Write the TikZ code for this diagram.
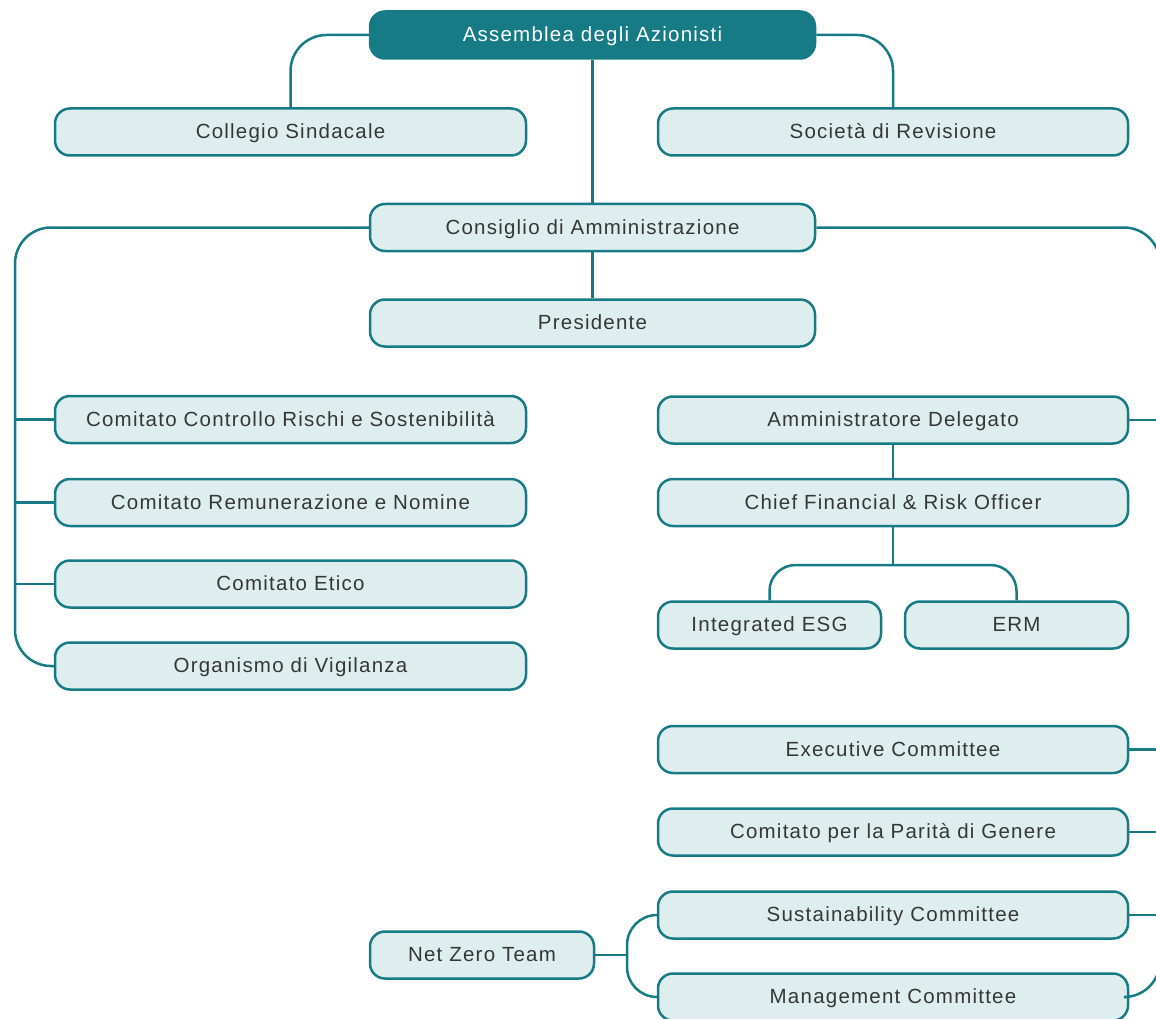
\documentclass[tikz,border=0pt]{standalone}
\usepackage{fontspec}
\setmainfont{Liberation Sans}
\newfontfamily\boxfont[LetterSpace=6]{Liberation Sans}
\usepackage{tikz}
\definecolor{teal1}{HTML}{177B85}
\definecolor{tealbg}{HTML}{DEEEEE}
\definecolor{ink}{HTML}{363636}

\begin{document}
\begin{tikzpicture}[
    x=1pt, y=-1pt,
    box/.style={rectangle, rounded corners=15pt, draw=teal1, line width=2.5pt,
                fill=tealbg, text=ink, minimum width=#1, minimum height=47pt,
                inner sep=0pt, text height=14.5pt, text depth=1.5pt,
                font=\boxfont\fontsize{20.5}{24}\selectfont},
    box/.default=471pt,
    headbox/.style={box=445pt, fill=teal1, text=white},
    link/.style={draw=teal1, line width=2.5pt, rounded corners=36pt}
]
\useasboundingbox (0,0) rectangle (1156,1019);

% Top level
\node[headbox] (assem) at (592.5,35) {Assemblea degli Azionisti};
\node[box] (collegio) at (290.5,132) {Collegio Sindacale};
\node[box=470pt] (societa) at (893,132) {Società di Revisione};
\node[box=445pt] (consiglio) at (592.5,227.5) {Consiglio di Amministrazione};
\node[box=445pt] (presid) at (592.5,323) {Presidente};

% Board committees (left)
\node[box] (ccrs) at (290.5,419.5) {Comitato Controllo Rischi e Sostenibilità};
\node[box] (crn) at (290.5,502.5) {Comitato Remunerazione e Nomine};
\node[box] (etico) at (290.5,584) {Comitato Etico};
\node[box] (odv) at (290.5,666) {Organismo di Vigilanza};

% Management (right)
\node[box=470pt] (ad) at (893,420) {Amministratore Delegato};
\node[box=470pt] (cfro) at (893,502.5) {Chief Financial \& Risk Officer};
\node[box=223pt] (esg) at (769.5,625) {Integrated ESG};
\node[box=223pt] (erm) at (1016.5,625) {ERM};
\node[box=470pt] (execc) at (893,749.5) {Executive Committee};
\node[box=470pt] (parita) at (893,832) {Comitato per la Parità di Genere};
\node[box=470pt] (sust) at (893,915) {Sustainability Committee};
\node[box=470pt] (mgmt) at (893,997) {Management Committee};
\node[box=224pt] (netzero) at (482,955) {Net Zero Team};

% Bus points
\coordinate (lbus) at (15,0);
\coordinate (rbus) at (1160,0);
\coordinate (cfsplit) at (893,565);
\coordinate (nzbus) at (627,955);

% Connectors
\draw[link] (assem.west) -| (collegio.north);
\draw[link] (assem.east) -| (societa.north);
\draw[link] (assem.south) -- (consiglio.north);
\draw[link] (consiglio.south) -- (presid.north);

\draw[link] (consiglio.west) -| (lbus |- odv.west) -- (odv.west);
\foreach \n in {ccrs,crn,etico}
  \draw[link] (\n.west) -- (lbus |- \n.west);

\draw[link] (consiglio.east) -| (rbus |- mgmt.east) -- (mgmt.east);
\foreach \n in {ad,execc,parita,sust}
  \draw[link] (\n.east) -- (rbus |- \n.east);

\draw[link] (ad.south) -- (cfro.north);
\draw[link] (cfro.south) -- (cfsplit);
\draw[link, rounded corners=26pt] (esg.north) |- (cfsplit) -| (erm.north);

\draw[link] (netzero.east) -- (nzbus);
\draw[link, rounded corners=30pt] (sust.west) -| (nzbus |- mgmt.west) -- (mgmt.west);

\end{tikzpicture}
\end{document}
